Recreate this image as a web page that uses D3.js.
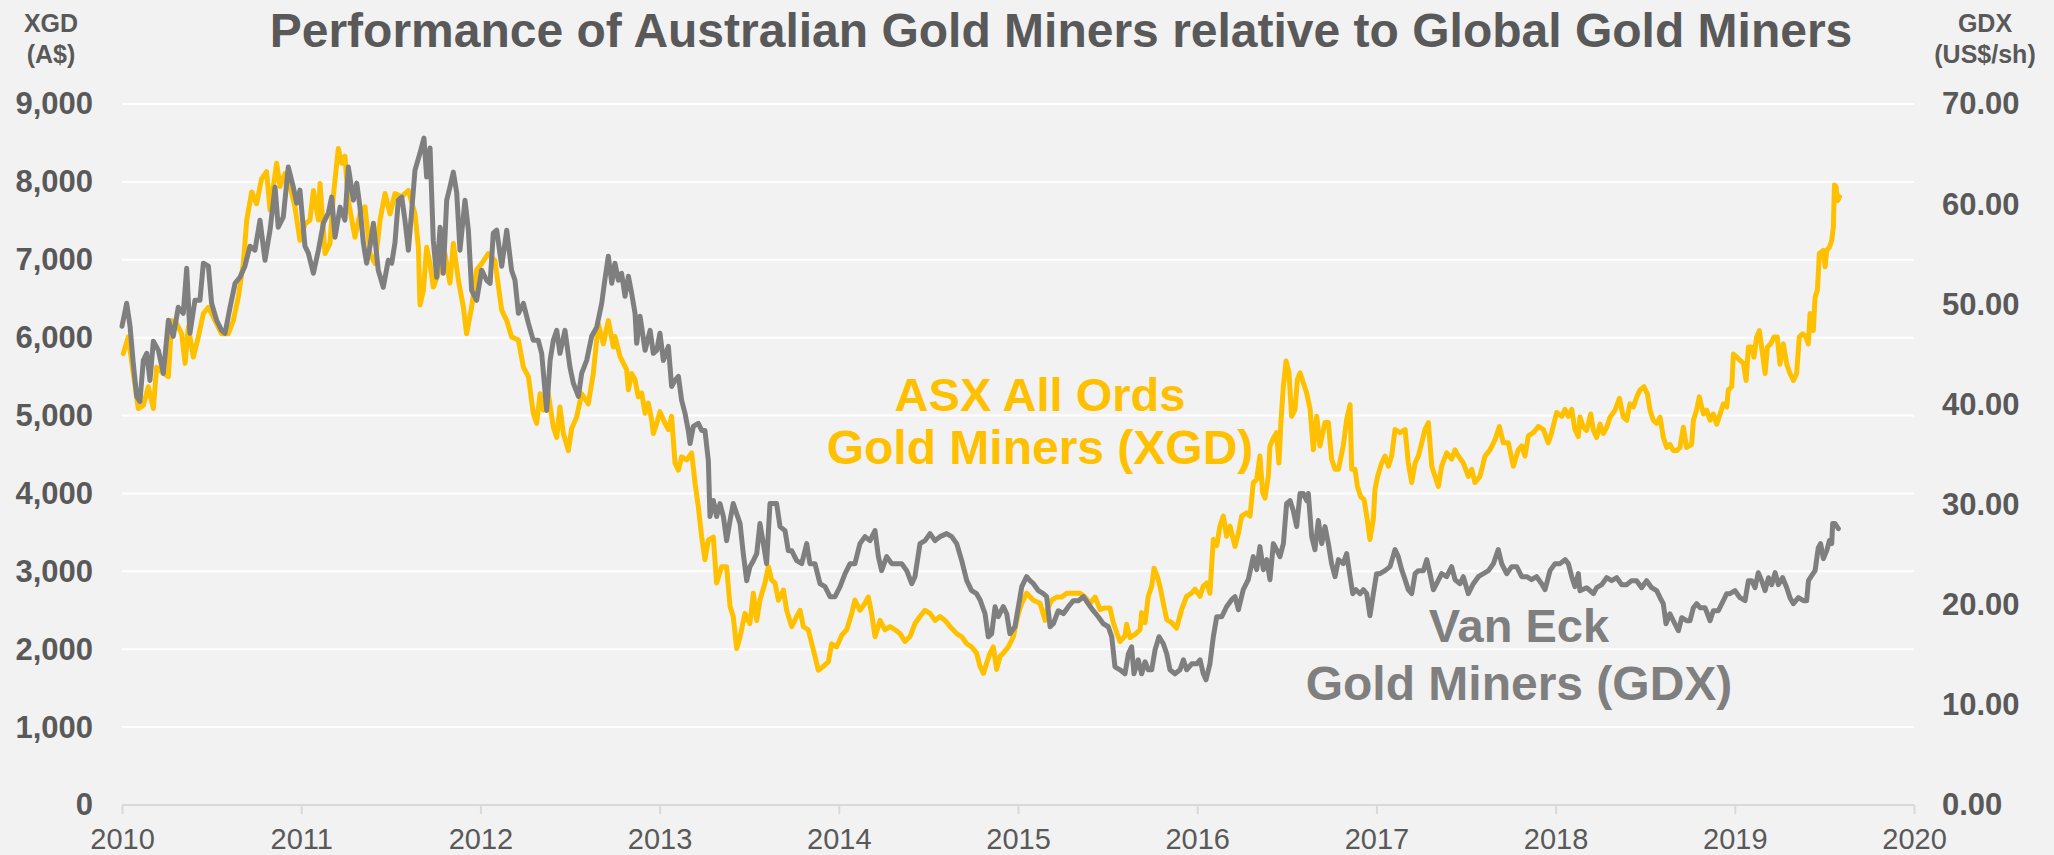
<!DOCTYPE html>
<html>
<head>
<meta charset="utf-8">
<script src="https://cdn.jsdelivr.net/npm/d3@7"></script>
<style>
  html, body { margin: 0; padding: 0; background: #F2F2F2; }
  svg { display: block; font-family: "Liberation Sans", Arial, sans-serif; }
</style>
</head>
<body>
<script>
// ---- data (decimal year, value) ----
const xTickYears = [2010, 2011, 2012, 2013, 2014, 2015, 2016, 2017, 2018, 2019, 2020];
const leftTicks = [0, 1000, 2000, 3000, 4000, 5000, 6000, 7000, 8000, 9000];
const rightTicks = [0, 10, 20, 30, 40, 50, 60, 70];

// ASX All Ords Gold Miners (XGD), A$, left axis
const xgdSeries = [
[2010.007,5795],[2010.035,6010],[2010.063,5540],[2010.091,5090],[2010.119,5130],[2010.147,5370],[2010.175,5090],[2010.193,5620],[2010.231,5540],[2010.259,5500],[2010.277,6220],[2010.305,6180],[2010.333,6050],[2010.352,5670],[2010.370,6140],[2010.398,5750],[2010.426,6010],[2010.454,6310],[2010.482,6390],[2010.519,6220],[2010.556,6050],[2010.593,6050],[2010.621,6220],[2010.649,6520],[2010.677,6950],[2010.696,7510],[2010.724,7870],[2010.751,7720],[2010.779,8040],[2010.807,8130],[2010.826,7640],[2010.863,8240],[2010.882,7940],[2010.910,8110],[2010.938,7940],[2010.965,7680],[2010.993,7250],
[2011.021,7460],[2011.049,7510],[2011.068,7890],[2011.096,7510],[2011.105,7980],[2011.133,7080],[2011.161,7210],[2011.179,7810],[2011.207,8430],[2011.226,8240],[2011.244,8330],[2011.263,7760],[2011.300,7290],[2011.328,7590],[2011.356,7680],[2011.384,7080],[2011.412,6950],[2011.440,7510],[2011.468,7850],[2011.496,7590],[2011.523,7850],[2011.561,7810],[2011.598,7890],[2011.635,7590],[2011.654,7160],[2011.663,6420],[2011.682,6610],[2011.700,7160],[2011.719,6950],[2011.737,6650],[2011.765,6820],[2011.802,7080],[2011.830,6700],[2011.849,7210],[2011.877,6740],[2011.905,6390],[2011.923,6050],[2011.951,6390],[2011.979,6870],
[2012.007,6950],[2012.044,7080],[2012.081,6990],[2012.119,6350],[2012.147,6220],[2012.174,6010],[2012.212,5970],[2012.240,5620],[2012.268,5500],[2012.295,5030],[2012.314,4900],[2012.333,5280],[2012.351,5070],[2012.379,5280],[2012.407,4850],[2012.426,4720],[2012.444,5110],[2012.463,4770],[2012.491,4550],[2012.509,4830],[2012.537,4980],[2012.565,5280],[2012.602,5150],[2012.630,5540],[2012.658,6180],[2012.686,5920],[2012.714,6220],[2012.742,5880],
[2012.751,6015],[2012.779,5760],[2012.798,5670],[2012.816,5590],[2012.826,5330],[2012.844,5540],[2012.863,5460],[2012.881,5240],[2012.900,5290],[2012.919,5030],[2012.937,5160],[2012.956,4940],[2012.965,4770],[2012.984,4900],
[2013.002,5050],[2013.030,4900],[2013.049,4820],[2013.067,4990],[2013.086,4390],[2013.105,4300],[2013.123,4470],[2013.151,4430],[2013.179,4520],[2013.198,4130],[2013.216,3830],[2013.235,3440],[2013.253,3150],[2013.272,3400],[2013.300,3440],[2013.318,2850],[2013.346,3060],[2013.374,3060],[2013.393,2550],[2013.411,2420],[2013.430,2010],[2013.449,2160],[2013.476,2460],[2013.504,2330],[2013.523,2720],[2013.542,2370],[2013.560,2630],[2013.588,2850],[2013.607,3060],[2013.625,2890],[2013.644,2850],[2013.663,2630],[2013.691,2760],[2013.709,2500],[2013.737,2290],[2013.765,2420],[2013.784,2500],[2013.802,2290],[2013.830,2250],[2013.858,1990],[2013.886,1730],[2013.914,1780],[2013.942,1840],[2013.960,2070],[2013.988,2030],
[2014.016,2180],[2014.044,2250],[2014.072,2460],[2014.090,2630],[2014.118,2500],[2014.146,2590],[2014.165,2670],[2014.183,2460],[2014.202,2160],[2014.230,2370],[2014.258,2250],[2014.286,2290],[2014.314,2250],[2014.342,2200],[2014.369,2100],[2014.397,2160],[2014.425,2330],[2014.453,2420],[2014.481,2500],[2014.509,2460],[2014.537,2370],[2014.565,2420],[2014.593,2370],[2014.621,2290],[2014.658,2200],[2014.686,2160],[2014.714,2070],[2014.741,2030],[2014.769,1950],[2014.788,1780],[2014.807,1690],[2014.825,1820],[2014.844,1950],[2014.862,2030],[2014.881,1740],[2014.900,1910],[2014.918,1950],[2014.946,2030],[2014.974,2160],
[2015.002,2460],[2015.021,2590],[2015.048,2720],[2015.086,2630],[2015.123,2590],[2015.151,2370],[2015.160,2500],[2015.188,2630],[2015.216,2670],[2015.244,2670],[2015.272,2720],[2015.309,2720],[2015.346,2720],[2015.374,2670],[2015.402,2590],[2015.430,2670],
[2015.458,2510],[2015.486,2530],[2015.513,2530],[2015.532,2340],[2015.551,2210],[2015.569,2100],[2015.597,2170],[2015.606,2320],[2015.625,2150],[2015.653,2190],[2015.681,2250],[2015.690,2470],[2015.709,2340],[2015.727,2680],[2015.746,2810],[2015.759,3040],[2015.778,2930],[2015.792,2810],[2015.811,2590],[2015.830,2380],[2015.858,2340],[2015.885,2270],[2015.913,2510],[2015.941,2680],[2015.969,2720],[2015.988,2770],
[2016.016,2680],[2016.034,2810],[2016.053,2850],[2016.071,2720],[2016.090,3410],[2016.109,3330],[2016.127,3580],[2016.146,3710],[2016.164,3450],[2016.183,3580],[2016.211,3320],[2016.230,3490],[2016.248,3710],[2016.276,3750],[2016.295,3710],[2016.313,4140],[2016.332,4180],[2016.350,4480],[2016.365,4010],[2016.378,3940],[2016.397,4220],[2016.406,4610],[2016.425,4710],[2016.443,4780],[2016.456,4390],[2016.468,4950],[2016.481,5380],[2016.496,5700],[2016.512,5550],[2016.527,4990],[2016.546,5080],[2016.559,5460],[2016.574,5550],[2016.592,5420],[2016.611,5290],[2016.630,5080],[2016.648,4560],[2016.667,4990],[2016.685,4610],[2016.713,4910],[2016.732,4910],[2016.750,4440],[2016.769,4310],[2016.788,4310],[2016.815,4610],[2016.834,4950],[2016.853,5140],[2016.862,4310],[2016.881,4310],[2016.894,4090],[2016.912,3960],[2016.931,3920],[2016.946,3710],[2016.964,3410],[2016.983,3670],[2016.992,4050],
[2017.007,4220],[2017.029,4390],[2017.048,4480],[2017.067,4350],[2017.085,4480],[2017.104,4820],[2017.132,4780],[2017.160,4820],[2017.178,4390],[2017.197,4140],[2017.216,4390],[2017.234,4480],[2017.253,4650],[2017.271,4820],[2017.290,4910],[2017.309,4350],[2017.327,4220],[2017.346,4090],[2017.364,4350],[2017.392,4520],[2017.420,4440],[2017.439,4560],[2017.457,4480],[2017.485,4390],[2017.513,4220],[2017.532,4310],[2017.550,4140],[2017.578,4220],[2017.606,4480],[2017.634,4560],[2017.662,4690],[2017.686,4860],[2017.708,4650],[2017.736,4650],[2017.764,4350],[2017.792,4560],[2017.811,4610],[2017.829,4480],[2017.848,4740],[2017.876,4780],[2017.904,4860],[2017.932,4820],[2017.959,4650],[2017.978,4780],
[2018.006,5040],[2018.034,4990],[2018.052,5080],[2018.071,4990],[2018.090,5080],[2018.108,4820],[2018.127,4730],[2018.136,4980],[2018.155,4850],[2018.173,4810],[2018.196,5020],[2018.211,4810],[2018.229,4720],[2018.248,4890],[2018.266,4770],[2018.285,4850],[2018.304,4980],[2018.332,5070],[2018.356,5220],[2018.378,4980],[2018.397,4940],[2018.415,5150],[2018.434,5110],[2018.453,5240],[2018.471,5330],[2018.493,5370],[2018.512,5280],[2018.527,5070],[2018.545,4940],[2018.564,4900],[2018.583,4980],[2018.601,4720],[2018.620,4590],[2018.638,4630],[2018.657,4550],[2018.676,4550],[2018.694,4590],[2018.713,4850],[2018.731,4590],[2018.759,4630],[2018.769,4940],[2018.787,5070],[2018.802,5240],[2018.825,5020],[2018.843,5070],[2018.862,4940],[2018.880,5020],[2018.899,4890],[2018.918,5020],[2018.936,5150],[2018.955,5110],[2018.964,5330],[2018.983,5370],[2018.992,5790],
[2019.011,5750],[2019.029,5710],[2019.048,5670],[2019.063,5450],[2019.076,5880],[2019.094,5880],[2019.107,5750],[2019.122,6010],[2019.137,6090],[2019.152,5840],[2019.169,5540],[2019.182,5880],[2019.200,5920],[2019.219,6010],[2019.237,6010],[2019.252,5660],[2019.271,5920],[2019.290,5660],[2019.308,5540],[2019.327,5450],[2019.345,5540],[2019.360,6010],[2019.379,6050],[2019.397,6010],[2019.410,5920],[2019.420,6310],[2019.438,6090],[2019.448,6520],[2019.461,6610],[2019.472,7080],[2019.494,7120],[2019.504,6910],[2019.513,7120],[2019.528,7160],[2019.541,7250],[2019.550,7420],[2019.556,7960],[2019.565,7940],[2019.574,7760],[2019.584,7810]
];

// Van Eck Gold Miners (GDX), US$/sh, right axis
const gdxSeries = [
[2010.000,47.8],[2010.026,50.1],[2010.045,47.8],[2010.063,44.1],[2010.082,40.8],[2010.100,40.3],[2010.119,44.4],[2010.138,45.1],[2010.156,42.4],[2010.175,46.3],[2010.203,45.4],[2010.231,43.1],[2010.259,48.4],[2010.286,46.8],[2010.314,49.7],[2010.342,49.1],[2010.361,53.6],[2010.379,47.1],[2010.407,50.4],[2010.435,50.4],[2010.454,54.1],[2010.482,53.8],[2010.500,50.1],[2010.528,48.4],[2010.556,47.4],[2010.575,47.1],[2010.603,49.7],[2010.631,52.1],[2010.658,52.7],[2010.686,53.8],[2010.714,55.8],[2010.742,55.4],[2010.770,58.4],[2010.798,54.4],[2010.826,57.4],[2010.854,61.7],[2010.872,57.7],[2010.900,58.7],[2010.928,63.7],[2010.956,61.7],[2010.975,60.1],[2010.993,61.4],
[2011.021,55.8],[2011.040,55.1],[2011.068,53.1],[2011.096,55.4],[2011.124,58.1],[2011.151,59.1],[2011.170,60.7],[2011.189,56.7],[2011.217,59.7],[2011.244,58.4],[2011.263,63.7],[2011.291,60.4],[2011.310,62.1],[2011.328,59.7],[2011.347,56.1],[2011.365,54.1],[2011.384,55.8],[2011.403,58.1],[2011.430,53.4],[2011.458,51.7],[2011.486,54.4],[2011.505,54.1],[2011.523,56.1],[2011.542,60.4],[2011.561,60.7],[2011.579,58.4],[2011.598,55.4],[2011.617,59.4],[2011.635,63.4],[2011.663,65.1],[2011.685,66.6],[2011.700,62.7],[2011.719,65.6],[2011.737,56.4],[2011.756,52.7],[2011.775,57.7],[2011.793,53.1],[2011.812,60.4],[2011.830,61.7],[2011.849,63.2],[2011.868,61.1],[2011.886,55.4],[2011.914,60.4],[2011.933,57.4],[2011.951,51.4],[2011.979,50.4],
[2012.007,53.4],[2012.035,52.4],[2012.054,52.1],[2012.072,57.1],[2012.091,57.4],[2012.119,53.8],[2012.147,57.4],[2012.174,53.4],[2012.193,52.4],[2012.212,49.1],[2012.240,50.1],[2012.268,48.1],[2012.295,46.4],[2012.323,46.4],[2012.342,45.1],[2012.370,39.4],[2012.389,44.4],[2012.407,46.4],[2012.426,47.4],[2012.444,45.1],[2012.472,47.4],[2012.500,43.7],[2012.519,42.1],[2012.547,40.8],[2012.565,43.1],[2012.593,44.4],[2012.621,46.8],[2012.649,47.7],[2012.677,50.1],[2012.695,52.5],
[2012.714,54.8],[2012.733,52.1],[2012.751,54.1],[2012.770,52.4],[2012.788,53.1],[2012.807,50.8],[2012.826,52.8],[2012.844,51.1],[2012.863,49.1],[2012.872,46.1],[2012.891,48.8],[2012.919,45.4],[2012.947,47.4],[2012.965,45.1],[2012.984,45.4],
[2013.002,47.1],[2013.021,44.4],[2013.049,45.8],[2013.067,41.8],[2013.086,42.4],[2013.105,42.8],[2013.123,40.4],[2013.142,39.1],[2013.160,37.4],[2013.170,36.1],[2013.188,37.8],[2013.216,38.1],[2013.235,37.4],[2013.253,37.4],[2013.272,34.4],[2013.281,28.8],[2013.300,30.4],[2013.318,28.8],[2013.337,30.1],[2013.356,28.8],[2013.374,26.4],[2013.393,28.4],[2013.411,30.1],[2013.430,29.1],[2013.449,28.1],[2013.467,25.1],[2013.486,22.4],[2013.504,23.8],[2013.523,24.4],[2013.542,25.1],[2013.560,28.1],[2013.579,26.1],[2013.597,24.1],[2013.616,30.1],[2013.635,30.1],[2013.653,30.1],[2013.672,27.8],[2013.700,27.4],[2013.718,25.4],[2013.737,25.4],[2013.765,24.4],[2013.793,24.1],[2013.821,26.1],[2013.839,24.1],[2013.867,24.1],[2013.895,22.1],[2013.923,21.8],[2013.951,20.8],[2013.979,20.8],
[2014.007,21.8],[2014.035,23.1],[2014.063,24.1],[2014.090,24.1],[2014.118,26.1],[2014.146,26.8],[2014.174,26.4],[2014.202,27.4],[2014.221,24.8],[2014.239,23.4],[2014.267,24.8],[2014.295,24.1],[2014.323,24.1],[2014.351,24.1],[2014.379,23.4],[2014.407,22.1],[2014.425,22.8],[2014.453,26.1],[2014.481,26.4],[2014.509,27.1],[2014.537,26.4],[2014.565,26.8],[2014.602,27.1],[2014.630,26.8],[2014.658,26.1],[2014.686,24.4],[2014.714,22.4],[2014.741,21.4],[2014.769,21.1],[2014.788,20.5],[2014.816,19.1],[2014.834,16.8],[2014.853,17.1],[2014.872,19.8],[2014.890,18.8],[2014.918,19.8],[2014.937,19.1],[2014.955,17.1],[2014.983,17.8],
[2015.002,19.8],[2015.021,21.8],[2015.048,22.8],[2015.067,22.4],[2015.086,22.1],[2015.114,21.4],[2015.141,21.1],[2015.160,20.8],[2015.179,17.8],[2015.197,18.1],[2015.225,19.4],[2015.253,19.1],[2015.281,19.8],[2015.309,20.4],[2015.337,20.4],[2015.365,20.8],[2015.392,20.1],[2015.420,19.4],[2015.448,18.8],
[2015.476,18.1],[2015.504,17.8],[2015.523,16.8],[2015.541,13.8],[2015.569,13.5],[2015.597,13.1],[2015.616,15.1],[2015.634,15.8],[2015.647,13.1],[2015.671,14.5],[2015.690,13.1],[2015.709,14.3],[2015.727,13.5],[2015.746,13.5],[2015.765,15.5],[2015.787,16.8],[2015.811,16.1],[2015.830,15.1],[2015.848,13.5],[2015.876,13.1],[2015.904,13.5],[2015.923,14.5],[2015.941,13.5],[2015.969,14.1],[2015.997,14.1],
[2016.016,14.5],[2016.034,13.1],[2016.049,12.5],[2016.071,14.1],[2016.090,16.8],[2016.109,18.8],[2016.137,18.8],[2016.164,19.8],[2016.192,20.5],[2016.211,20.8],[2016.230,19.5],[2016.257,21.5],[2016.285,22.5],[2016.313,24.8],[2016.332,23.5],[2016.350,25.8],[2016.369,23.5],[2016.388,24.5],[2016.406,22.5],[2016.425,26.1],[2016.443,25.5],[2016.462,24.8],[2016.481,26.1],[2016.499,30.1],[2016.518,30.4],[2016.536,29.4],[2016.555,27.8],[2016.574,31.1],[2016.592,31.1],[2016.611,30.4],[2016.620,31.1],[2016.639,26.8],[2016.657,25.5],[2016.676,28.4],[2016.695,26.1],[2016.713,27.8],[2016.732,26.1],[2016.750,24.1],[2016.769,22.8],[2016.788,24.5],[2016.815,24.1],[2016.834,25.1],[2016.853,22.8],[2016.868,21.1],[2016.886,21.5],[2016.909,21.1],[2016.927,21.5],[2016.946,21.1],[2016.964,18.9],[2016.983,21.1],
[2017.001,23.1],[2017.020,23.1],[2017.048,23.4],[2017.076,23.8],[2017.104,25.5],[2017.122,24.8],[2017.141,23.5],[2017.160,22.5],[2017.178,21.5],[2017.197,21.1],[2017.216,23.1],[2017.234,23.4],[2017.262,23.4],[2017.281,24.5],[2017.299,23.1],[2017.318,21.5],[2017.336,22.1],[2017.364,23.1],[2017.392,22.8],[2017.420,23.8],[2017.439,22.5],[2017.467,22.1],[2017.485,22.8],[2017.513,21.1],[2017.541,22.1],[2017.569,22.8],[2017.597,23.1],[2017.625,23.4],[2017.653,24.1],[2017.680,25.5],[2017.699,24.1],[2017.727,23.1],[2017.755,23.8],[2017.783,23.8],[2017.811,22.8],[2017.839,22.8],[2017.866,22.5],[2017.894,22.8],[2017.922,22.1],[2017.941,21.5],[2017.969,23.4],[2017.997,24.1],
[2018.025,24.1],[2018.053,24.5],[2018.071,24.1],[2018.090,22.8],[2018.108,21.8],[2018.127,23.1],[2018.136,21.4],[2018.173,21.7],[2018.211,21.1],[2018.229,21.7],[2018.257,22.0],[2018.285,22.7],[2018.313,22.4],[2018.341,22.7],[2018.369,22.0],[2018.397,22.0],[2018.424,22.4],[2018.452,22.4],[2018.480,21.7],[2018.508,22.4],[2018.536,21.7],[2018.564,21.4],[2018.583,20.7],[2018.601,20.1],[2018.616,18.1],[2018.638,19.1],[2018.657,18.4],[2018.685,17.4],[2018.704,18.7],[2018.731,18.4],[2018.750,18.4],[2018.769,19.7],[2018.787,20.1],[2018.806,19.7],[2018.834,19.7],[2018.862,18.4],[2018.880,19.4],[2018.908,19.4],[2018.936,20.4],[2018.955,21.1],[2018.973,21.1],
[2019.001,21.4],[2019.029,20.7],[2019.057,20.4],[2019.076,22.4],[2019.094,22.4],[2019.113,21.7],[2019.131,23.2],[2019.150,22.4],[2019.169,21.4],[2019.188,22.7],[2019.206,22.0],[2019.225,23.2],[2019.243,22.0],[2019.267,22.7],[2019.290,21.7],[2019.308,20.7],[2019.327,20.1],[2019.355,20.7],[2019.383,20.4],[2019.401,20.4],[2019.411,22.4],[2019.429,22.9],[2019.448,23.4],[2019.466,25.7],[2019.479,26.1],[2019.494,24.6],[2019.513,25.4],[2019.528,26.4],[2019.541,26.1],[2019.546,28.1],[2019.559,28.1],[2019.578,27.6]
];

// ---- layout ----
const W = 2054, H = 855;
const plotLeft = 122, plotRight = 1914, plotTop = 104, plotBottom = 805;
const textGrey = '#595959';
const gold = '#FFC000';
const grey = '#7F7F7F';

let svg = d3.select('body').append('svg')
  .attr('width', W)
  .attr('height', H);

svg.append('rect').attr('width', W).attr('height', H).attr('fill', '#F2F2F2');

let x = d3.scaleLinear().domain([2010, 2020]).range([plotLeft, plotRight]);
let yL = d3.scaleLinear().domain([0, 9000]).range([plotBottom, plotTop]);
let yR = d3.scaleLinear().domain([0, 70]).range([plotBottom, plotTop]);

// gridlines
svg.append('g')
  .selectAll('line')
  .data(leftTicks.filter(d => d > 0))
  .enter()
    .append('line')
    .attr('x1', plotLeft)
    .attr('x2', plotRight)
    .attr('y1', d => yL(d))
    .attr('y2', d => yL(d))
    .attr('stroke', '#FFFFFF')
    .attr('stroke-width', 2)
;

// left axis labels
let axL = svg.append('g')
  .attr('transform', `translate(${plotLeft},0)`)
  .call(d3.axisLeft(yL).tickValues(leftTicks).tickSize(0).tickPadding(29).tickFormat(d3.format(',')));
axL.select('.domain').remove();
axL.selectAll('text')
  .attr('fill', textGrey)
  .style('font-size', '31px')
  .style('font-weight', 'bold')
  .style('font-family', '"Liberation Sans", Arial, sans-serif');

// right axis labels
let axR = svg.append('g')
  .attr('transform', `translate(${plotRight},0)`)
  .call(d3.axisRight(yR).tickValues(rightTicks).tickSize(0).tickPadding(28).tickFormat(d3.format('.2f')));
axR.select('.domain').remove();
axR.selectAll('text')
  .attr('fill', textGrey)
  .style('font-size', '31px')
  .style('font-weight', 'bold')
  .style('font-family', '"Liberation Sans", Arial, sans-serif');

// bottom axis
let axB = svg.append('g')
  .attr('transform', `translate(0,${plotBottom})`)
  .call(d3.axisBottom(x).tickValues(xTickYears).tickSize(9).tickFormat(d3.format('d')));
axB.select('.domain')
  .attr('stroke', '#D9D9D9')
  .attr('stroke-width', 2)
  .attr('d', `M${plotLeft},0H${plotRight}`);
axB.selectAll('.tick line')
  .attr('stroke', '#D9D9D9')
  .attr('stroke-width', 2);
axB.selectAll('text')
  .attr('y', 44)
  .attr('dy', null)
  .attr('fill', textGrey)
  .style('font-size', '29px')
  .style('font-family', '"Liberation Sans", Arial, sans-serif');

// lines
let lineL = d3.line().x(d => x(d[0])).y(d => yL(d[1]));
let lineR = d3.line().x(d => x(d[0])).y(d => yR(d[1]));

svg.append('path')
  .datum(xgdSeries)
  .attr('d', lineL)
  .attr('fill', 'none')
  .attr('stroke', gold)
  .attr('stroke-width', 5)
  .attr('stroke-linejoin', 'round')
  .attr('stroke-linecap', 'round');

svg.append('path')
  .datum(gdxSeries)
  .attr('d', lineR)
  .attr('fill', 'none')
  .attr('stroke', grey)
  .attr('stroke-width', 5)
  .attr('stroke-linejoin', 'round')
  .attr('stroke-linecap', 'round');

// title
svg.append('text')
  .attr('x', 1061)
  .attr('y', 47)
  .attr('text-anchor', 'middle')
  .attr('fill', textGrey)
  .style('font-size', '48px')
  .style('font-weight', 'bold')
  .text('Performance of Australian Gold Miners relative to Global Gold Miners');

// axis titles
function axisTitle(cx, lines){
  lines.forEach((t, i) => {
    svg.append('text')
      .attr('x', cx)
      .attr('y', 32 + i * 31)
      .attr('text-anchor', 'middle')
      .attr('fill', textGrey)
      .style('font-size', '25px')
      .style('font-weight', 'bold')
      .text(t);
  });
}
axisTitle(51, ['XGD', '(A$)']);
axisTitle(1985, ['GDX', '(US$/sh)']);

// series annotations
function label(cx, y1, y2, color, l1, l2){
  svg.append('text').attr('x', cx).attr('y', y1).attr('text-anchor', 'middle')
    .attr('fill', color).style('font-size', '47px').style('font-weight', 'bold').text(l1);
  svg.append('text').attr('x', cx).attr('y', y2).attr('text-anchor', 'middle')
    .attr('fill', color).style('font-size', '48px').style('font-weight', 'bold').text(l2);
}
label(1040, 411, 464, gold, 'ASX All Ords', 'Gold Miners (XGD)');
label(1519, 642, 700, grey, 'Van Eck', 'Gold Miners (GDX)');
</script>
</body>
</html>
